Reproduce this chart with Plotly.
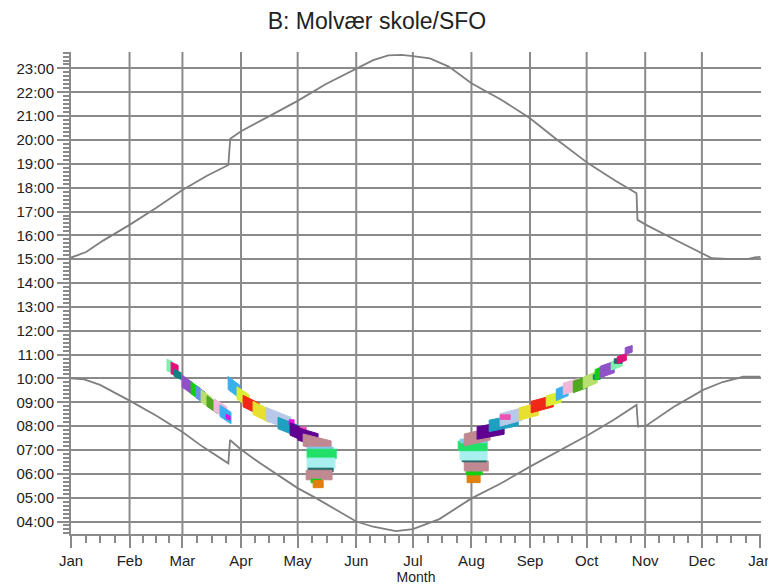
import plotly.graph_objects as go

# ---------------- data ----------------
month_labels = ["Jan", "Feb", "Mar", "Apr", "May", "Jun", "Jul", "Aug", "Sep", "Oct", "Nov", "Dec", "Jan"]
month_days = [0, 31, 59, 90, 120, 151, 181, 212, 243, 273, 304, 334, 365]
hour_vals = list(range(4, 24))
hour_labels = ["%02d:00" % h for h in hour_vals]

# sunset (day of year, hour)
sunset_day = [0, 8, 17, 31, 45, 59, 72, 83.3, 84.3, 90, 105, 120, 135, 151, 160, 168, 175, 181, 190,
              200, 212, 228, 243, 258, 273.8, 288, 299.4, 299.9, 304.5, 319, 334.7, 339.3, 350, 358, 362, 365]
sunset_hr = [15.07, 15.30, 15.78, 16.44, 17.15, 17.9, 18.5, 18.95, 20.05, 20.37, 21.0, 21.64, 22.35, 23.0,
             23.35, 23.55, 23.57, 23.52, 23.42, 23.08, 22.38, 21.68, 20.91, 19.97, 19.02, 18.3, 17.77,
             16.65, 16.44, 15.85, 15.25, 15.04, 15.0, 15.0, 15.08, 15.1]

# sunrise (day of year, hour)
sunrise_day = [0, 7, 15.4, 24, 31, 45, 59, 70, 83.3, 84.2, 90, 100, 120, 130, 151, 160, 172, 181, 195,
               212, 227, 243, 258, 273.8, 287, 299.4, 300.2, 304.5, 319, 334.7, 345, 355.9, 365]
sunrise_hr = [10.0, 9.96, 9.73, 9.38, 9.07, 8.45, 7.75, 7.12, 6.44, 7.42, 7.02, 6.45, 5.4, 4.97, 4.0,
              3.78, 3.6, 3.68, 4.1, 4.97, 5.57, 6.3, 6.95, 7.63, 8.25, 8.89, 7.98, 8.02, 8.8, 9.52,
              9.85, 10.07, 10.07]

# shadow flicker periods: turbine id, day span, centre time at start/end, duration (h)
blob_turbine = [0, 1, 2, 3, 4, 5, 6, 7, 8, 9, 10,
                9, 11, 12, 13, 14, 15, 10, 16, 17, 16, 18, 19, 20, 21, 22, 18, 4, 23,
                23, 4, 18, 22, 21, 20, 19, 18, 16, 15, 14, 17, 13, 12, 11, 9, 8, 7, 6, 2, 4, 3, 0, 22, 1, 3]
blob_day0 = [50.8, 53.0, 54.6, 58.8, 63.6, 66.2, 68.9, 72.0, 75.7, 78.9, 82.1,
             83.2, 87.9, 91.1, 96.4, 103.3, 109.6, 115.5, 116.0, 121.3, 120.2, 122.9, 125.0, 125.0, 125.0,
             125.5, 124.5, 127.1, 128.2,
             209.7, 209.2, 208.2, 207.1, 206.0, 205.0, 206.0, 208.2, 215.0, 221.4, 227.2, 227.2, 237.3,
             243.6, 251.6, 256.9, 260.6, 265.9, 271.2, 276.5, 277.5, 280.2, 286.0, 287.6, 289.2, 293.4]
blob_day1 = [53.5, 56.7, 58.3, 64.6, 68.3, 71.0, 74.2, 77.3, 82.6, 84.7, 84.2,
             89.5, 94.3, 99.6, 104.9, 116.5, 120.2, 118.1, 124.5, 124.5, 130.8, 137.7, 138.8, 140.4, 139.8,
             138.8, 138.2, 132.4, 133.5,
             216.6, 217.7, 220.9, 219.8, 220.3, 220.3, 220.3, 221.9, 229.3, 236.8, 238.9, 232.5, 247.4,
             255.3, 259.5, 263.2, 269.1, 273.3, 278.6, 280.2, 282.3, 287.6, 291.8, 291.8, 294.0, 297.1]
blob_t0 = [10.56, 10.44, 10.23, 9.89, 9.60, 9.43, 9.26, 9.05, 8.89, 8.64, 8.41,
           9.81, 9.39, 9.05, 8.76, 8.51, 8.13, 8.17, 7.88, 7.84, 7.67, 7.42, 7.04, 6.83, 6.45, 6.16, 5.95,
           5.70, 5.57,
           5.78, 6.03, 6.33, 6.58, 6.79, 7.17, 7.38, 7.42, 7.71, 8.01, 8.26, 8.38, 8.51, 8.80, 9.05, 9.31,
           9.56, 9.64, 9.81, 10.06, 10.15, 10.27, 10.52, 10.73, 10.77, 11.15]
blob_t1 = [10.48, 10.31, 10.10, 9.56, 9.35, 9.18, 8.97, 8.76, 8.55, 8.34, 8.34,
           9.43, 9.05, 8.72, 8.43, 8.09, 7.80, 8.17, 7.59, 7.84, 7.42, 7.13, 7.04, 6.83, 6.45, 6.16, 5.95,
           5.70, 5.57,
           5.78, 6.03, 6.33, 6.58, 6.79, 7.17, 7.38, 7.67, 7.92, 8.26, 8.51, 8.38, 8.72, 9.05, 9.22, 9.52,
           9.77, 9.85, 10.06, 10.06, 10.31, 10.48, 10.69, 10.73, 10.90, 11.24]
blob_dur = [0.48, 0.48, 0.28, 0.50, 0.50, 0.50, 0.50, 0.44, 0.52, 0.48, 0.17,
            0.55, 0.52, 0.48, 0.55, 0.55, 0.48, 0.19, 0.52, 0.23, 0.52, 0.50, 0.15, 0.40, 0.42, 0.15, 0.40,
            0.15, 0.30,
            0.30, 0.15, 0.42, 0.15, 0.42, 0.40, 0.15, 0.50, 0.52, 0.48, 0.52, 0.19, 0.52, 0.48, 0.44, 0.48,
            0.48, 0.48, 0.48, 0.19, 0.44, 0.48, 0.34, 0.19, 0.28, 0.28]

# ---------------- style ----------------
turbine_colors = ["#80f0b0", "#e0107a", "#108080", "#9050c8", "#10d010", "#6890f0", "#b8e070",
                  "#50a820", "#f0b8d8", "#38b0f0", "#e010e0", "#d8f030", "#f02818", "#e8e030",
                  "#b8c8e8", "#20a0c0", "#600090", "#f050b0", "#c08890", "#80c8f0", "#20e068",
                  "#a8f0f0", "#206868", "#e08010"]
GRID = "#8a8a8a"
LINE = "#7f7f7f"
FONT = "Liberation Sans, Arial, sans-serif"

fig = go.Figure()

for i in range(len(blob_turbine)):
    h = blob_dur[i] / 2.0
    d0, d1 = blob_day0[i], blob_day1[i]
    a, b = blob_t0[i], blob_t1[i]
    c = turbine_colors[blob_turbine[i]]
    fig.add_trace(go.Scatter(
        x=[d0, d1, d1, d0, d0], y=[a + h, b + h, b - h, a - h, a + h],
        mode="lines", fill="toself", fillcolor=c, line=dict(color=c, width=1),
        showlegend=False, hoverinfo="skip"))

fig.add_trace(go.Scatter(x=sunset_day, y=sunset_hr, mode="lines",
                         line=dict(color=LINE, width=1.8), showlegend=False))
fig.add_trace(go.Scatter(x=sunrise_day, y=sunrise_hr, mode="lines",
                         line=dict(color=LINE, width=1.8), showlegend=False))

# vertical month grid lines (inner months only)
for d in month_days[1:-1]:
    fig.add_shape(type="line", xref="x", yref="paper", x0=d, x1=d, y0=0, y1=1,
                  line=dict(color=GRID, width=2), layer="below")

minor_x = []
for m in range(12):
    s, e = month_days[m], month_days[m + 1]
    for k in (1, 2, 3):
        minor_x.append(s + (e - s) * k / 4.0)

# the page adds an 8px body margin, so the figure is 768x578 to fill the 776x586 window
fig.update_layout(
    width=768, height=578,
    margin=dict(l=63, r=15, t=44, b=52, autoexpand=False),
    paper_bgcolor="white", plot_bgcolor="white",
    font=dict(family=FONT, size=15, color="#222222"),
    title=dict(text="B: Molvær skole/SFO", x=369 / 768, xanchor="center", xref="container",
               y=1 - 13 / 578, yanchor="middle", yref="container", pad=dict(t=0, b=0),
               font=dict(size=23, color="#222222", family=FONT)),
    xaxis=dict(range=[0, 365.3], tickmode="array", tickvals=month_days, ticktext=month_labels,
               automargin=False,
               showgrid=False, zeroline=False, showline=True, linecolor=GRID, linewidth=2,
               ticks="outside", ticklen=12, tickwidth=2, tickcolor=GRID,
               tickfont=dict(size=15, color="#222222"),
               minor=dict(tickmode="array", tickvals=minor_x, ticks="outside", ticklen=7,
                          tickwidth=2, tickcolor=GRID, showgrid=False),
               title=dict(text="Month", standoff=0, font=dict(size=14, color="#222222"))),
    yaxis=dict(range=[3.476, 23.69], tickmode="array", tickvals=hour_vals, ticktext=hour_labels,
               automargin=False,
               showgrid=True, gridcolor=GRID, gridwidth=2, zeroline=False,
               showline=True, linecolor=GRID, linewidth=2,
               ticks="outside", ticklen=12, tickwidth=2, tickcolor=GRID,
               tickfont=dict(size=15, color="#222222"),
               minor=dict(tickmode="linear", tick0=0, dtick=1 / 6, ticks="outside", ticklen=6,
                          tickwidth=1.5, tickcolor=GRID, showgrid=False)),
)

fig.write_html("out.html")
